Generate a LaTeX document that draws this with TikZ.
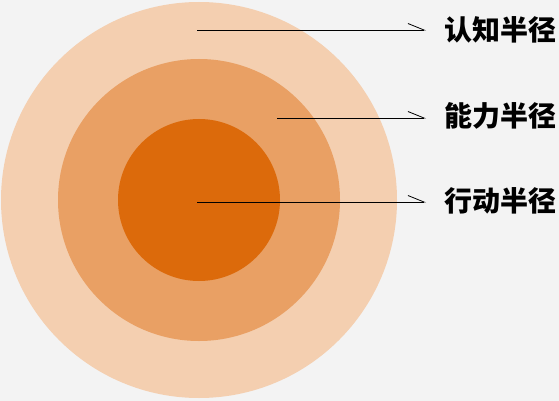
\documentclass[tikz,border=0pt]{standalone}
\usepackage{fontspec}
\newfontfamily\cjk{Noto Sans CJK SC}
\usetikzlibrary{arrows.meta}
\definecolor{bgray}{RGB}{243,243,243}
\definecolor{outerpeach}{RGB}{244,207,176}
\definecolor{midorange}{RGB}{233,160,100}
\definecolor{innerorange}{RGB}{220,106,11}
\tikzset{>={Straight Barb[left,length=16pt,width=13pt]}}
\tikzstyle{radline}=[draw=black,line width=0.8pt,->]
\tikzstyle{radlabel}=[anchor=west,inner sep=0pt,font=\cjk\bfseries\fontsize{28}{28}\selectfont]

\begin{document}
\begin{tikzpicture}[x=1pt,y=-1pt]
  \fill[bgray] (0,0) rectangle (559,401);
  \useasboundingbox (0,0) rectangle (559,401);

  \fill[outerpeach] (199,200) circle (198);
  \fill[midorange] (199,200) circle (141);
  \fill[innerorange] (199,200) circle (81);

  \coordinate (s1) at (197,30);
  \coordinate (s2) at (277,118);
  \coordinate (s3) at (197,202);
  \coordinate (e1) at (426,30);
  \coordinate (e2) at (426,118);
  \coordinate (e3) at (426,202);

  \node[radlabel] (t1) at (444,30) {认知半径};
  \node[radlabel] (t2) at (444,116) {能力半径};
  \node[radlabel] (t3) at (444,201) {行动半径};

  \draw[radline] (s1) -- (e1);
  \draw[radline] (s2) -- (e2);
  \draw[radline] (s3) -- (e3);
\end{tikzpicture}
\end{document}
